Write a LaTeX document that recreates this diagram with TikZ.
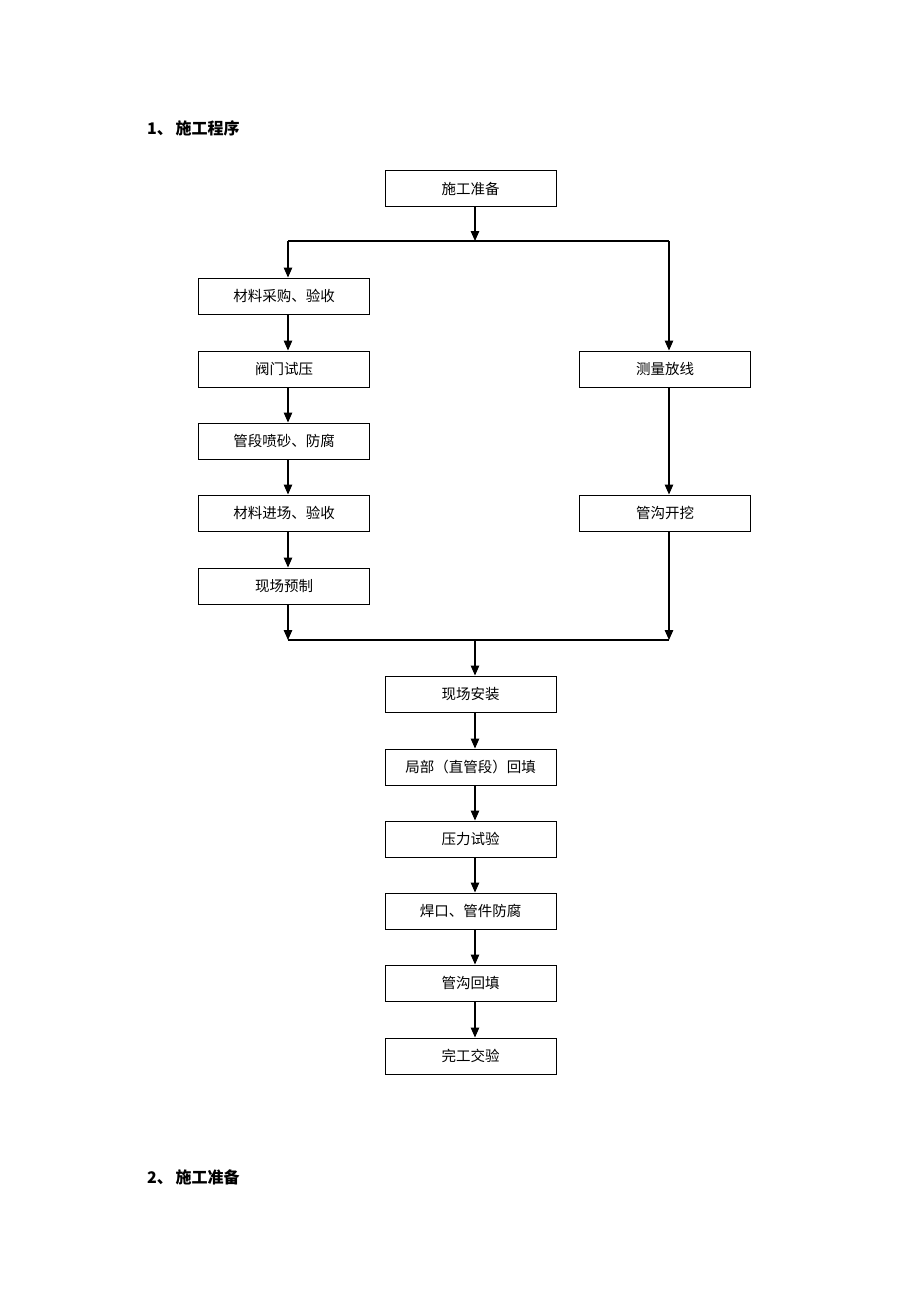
\documentclass[tikz,border=0pt]{standalone}
\usepackage{fontspec}
\setmainfont{Noto Sans CJK SC}
\usetikzlibrary{arrows.meta}
\begin{document}
\begin{tikzpicture}[x=1pt,y=-1pt,
  box/.style={draw,line width=1pt,minimum width=171pt,minimum height=36pt,inner sep=0pt,font=\fontsize{14.5}{16}\selectfont},
  conn/.style={line width=1.3pt},
  arr/.style={conn,-{Triangle[length=10pt,width=8.5pt]}},
  head/.style={anchor=west,inner sep=0pt,font=\fontsize{16}{18}\selectfont\bfseries}]
\useasboundingbox (0,0) rectangle (920,1302);
\fill[white] (0,0) rectangle (920,1302);
\node[head] (h1) at (147,128) {1、\,施工程序};
\node[head] (h2) at (147,1177) {2、\,施工准备};

\node[box] (top) at (470.5,188.5) {施工准备};
\node[box] (L1) at (284,296) {材料采购、验收};
\node[box] (L2) at (284,369) {阀门试压};
\node[box] (L3) at (284,441) {管段喷砂、防腐};
\node[box] (L4) at (284,513) {材料进场、验收};
\node[box] (L5) at (284,586) {现场预制};
\node[box] (R1) at (665,369) {测量放线};
\node[box] (R2) at (665,513) {管沟开挖};
\node[box] (C1) at (470.5,694) {现场安装};
\node[box] (C2) at (470.5,767) {局部（直管段）回填};
\node[box] (C3) at (470.5,839) {压力试验};
\node[box] (C4) at (470.5,911) {焊口、管件防腐};
\node[box] (C5) at (470.5,983) {管沟回填};
\node[box] (C6) at (470.5,1056) {完工交验};

\coordinate (j) at (475,241);
\coordinate (jl) at (288,241);
\coordinate (jr) at (669,241);
\coordinate (m) at (475,640);
\coordinate (ml) at (288,640);
\coordinate (mr) at (669,640);

\draw[arr] ([xshift=4.5pt]top.south) -- (j);
\draw[conn] (jl) -- (jr);
\draw[arr] (jl) -- ([xshift=4pt]L1.north);
\draw[arr] (jr) -- ([xshift=4pt]R1.north);
\draw[arr] ([xshift=4pt]L1.south) -- ([xshift=4pt]L2.north);
\draw[arr] ([xshift=4pt]L2.south) -- ([xshift=4pt]L3.north);
\draw[arr] ([xshift=4pt]L3.south) -- ([xshift=4pt]L4.north);
\draw[arr] ([xshift=4pt]L4.south) -- ([xshift=4pt]L5.north);
\draw[arr] ([xshift=4pt]R1.south) -- ([xshift=4pt]R2.north);
\draw[arr] ([xshift=4pt]L5.south) -- (ml);
\draw[arr] ([xshift=4pt]R2.south) -- (mr);
\draw[conn] (ml) -- (mr);
\draw[arr] (m) -- ([xshift=4.5pt]C1.north);
\draw[arr] ([xshift=4.5pt]C1.south) -- ([xshift=4.5pt]C2.north);
\draw[arr] ([xshift=4.5pt]C2.south) -- ([xshift=4.5pt]C3.north);
\draw[arr] ([xshift=4.5pt]C3.south) -- ([xshift=4.5pt]C4.north);
\draw[arr] ([xshift=4.5pt]C4.south) -- ([xshift=4.5pt]C5.north);
\draw[arr] ([xshift=4.5pt]C5.south) -- ([xshift=4.5pt]C6.north);
\end{tikzpicture}
\end{document}
